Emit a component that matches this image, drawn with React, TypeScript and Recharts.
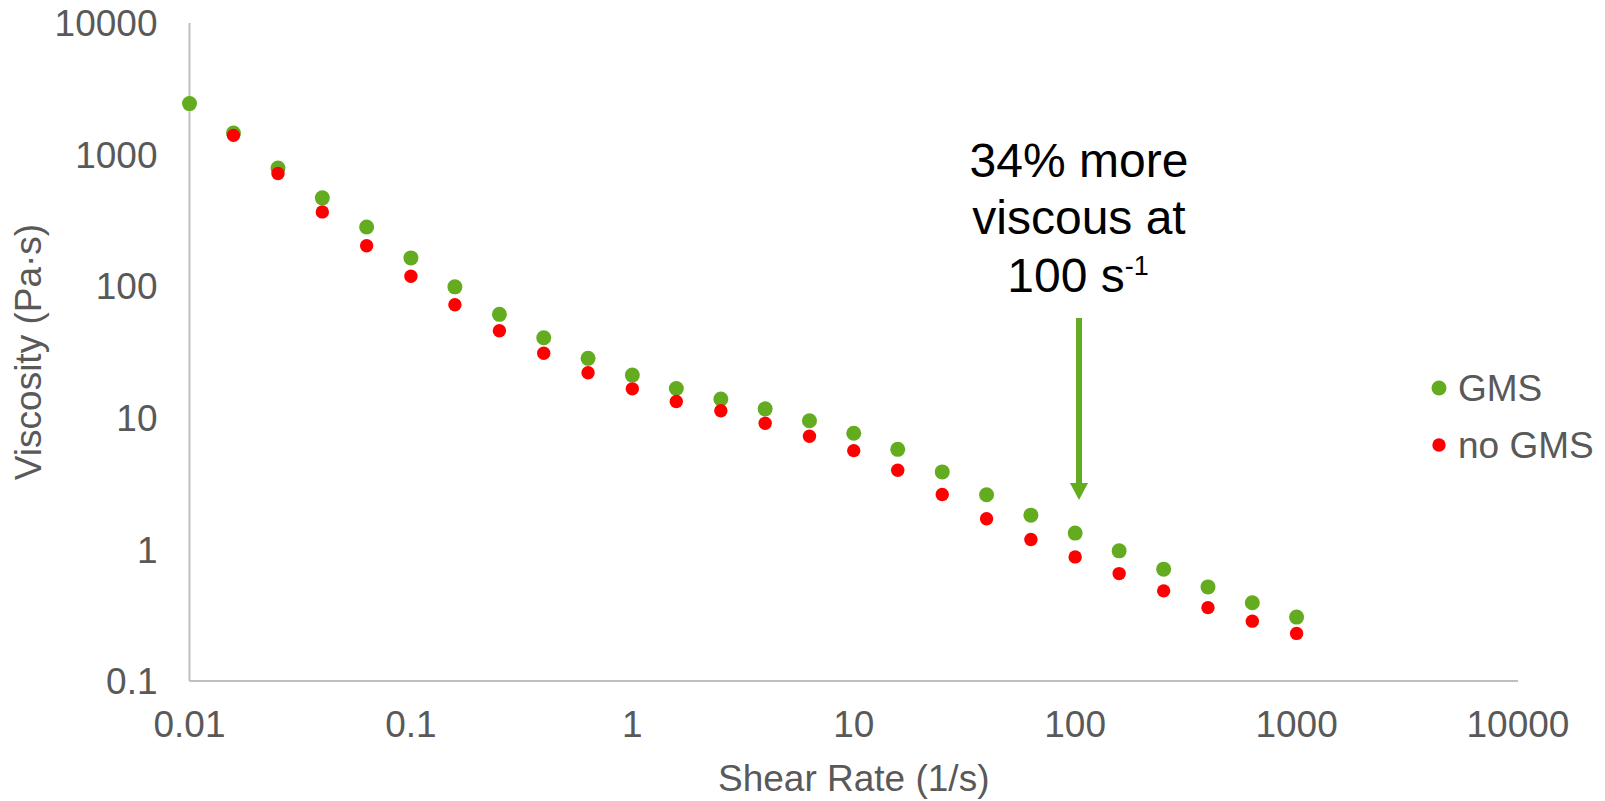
import React from "react"
import {
  ScatterChart,
  Scatter,
  XAxis,
  YAxis,
} from "recharts"

// shear rate (1/s), 5 points per decade
const shearRate = [
  0.01, 0.0158, 0.0251, 0.0398, 0.0631, 0.1, 0.158, 0.251, 0.398, 0.631, 1,
  1.58, 2.51, 3.98, 6.31, 10, 15.8, 25.1, 39.8, 63.1, 100, 158, 251, 398, 631,
  1000,
]

// viscosity (Pa·s)
const gmsViscosity = [
  2440, 1460, 790, 469, 282, 164, 98.9, 61.1, 40.6, 28.3, 21.1, 16.7, 13.9,
  11.7, 9.5, 7.63, 5.76, 3.88, 2.6, 1.82, 1.33, 0.975, 0.708, 0.519, 0.393,
  0.306,
]

// no GMS series has no point at 0.01
const noGmsViscosity = [
  null, 1400, 718, 367, 203, 119, 72.2, 45.9, 30.9, 22.0, 16.6, 13.3, 11.3,
  9.08, 7.24, 5.63, 3.99, 2.61, 1.71, 1.19, 0.877, 0.655, 0.484, 0.361, 0.285,
  0.23,
]

const xTicks = [0.01, 0.1, 1, 10, 100, 1000, 10000]
const yTicks = [0.1, 1, 10, 100, 1000, 10000]

const GREEN = "#63AC1F"
const RED = "#FF0000"
const GRAY = "#595959"
const AXIS = "#BFBFBF"
const FONT = '"Liberation Sans", Arial, sans-serif'
const FS = 37

const gmsData = shearRate.map((x, i) => ({ x, y: gmsViscosity[i] }))
const noGmsData = shearRate
  .map((x, i) => ({ x, y: noGmsViscosity[i] }))
  .filter((d) => d.y != null)

const dot = (color: string, r: number) => (props: any) =>
  <circle cx={props.cx} cy={props.cy} r={r} fill={color} />

export default function App() {
  return (
    <div
      style={{
        position: "absolute",
        left: 0,
        top: 0,
        width: 1605,
        height: 801,
        background: "#fff",
        fontFamily: FONT,
      }}
    >
      <ScatterChart
        width={1605}
        height={801}
        margin={{ top: 23, right: 87, bottom: 0, left: 0 }}
      >
        <XAxis
          type="number"
          dataKey="x"
          scale="log"
          domain={[0.01, 10000]}
          ticks={xTicks}
          height={120}
          tickLine={false}
          tickSize={0}
          tickMargin={30}
          axisLine={{ stroke: AXIS, strokeWidth: 2 }}
          tick={{ fill: GRAY, fontSize: FS, fontFamily: FONT }}
          tickFormatter={(v) => String(v)}
          label={{
            content: (p: any) => {
              const vb = p.viewBox
              return (
                <text
                  x={vb.x + vb.width / 2}
                  y={791}
                  textAnchor="middle"
                  fill={GRAY}
                  fontSize={FS}
                  fontFamily={FONT}
                >
                  Shear Rate (1/s)
                </text>
              )
            },
          }}
        />
        <YAxis
          type="number"
          dataKey="y"
          scale="log"
          domain={[0.1, 10000]}
          ticks={yTicks}
          width={189.5}
          tickLine={false}
          tickSize={0}
          tickMargin={32}
          axisLine={{ stroke: AXIS, strokeWidth: 2 }}
          tick={{ fill: GRAY, fontSize: FS, fontFamily: FONT }}
          tickFormatter={(v) => String(v)}
          label={{
            content: (p: any) => {
              const vb = p.viewBox
              const cx = 28
              const cy = vb.y + vb.height / 2
              return (
                <text
                  x={cx}
                  y={cy}
                  transform={`rotate(-90, ${cx}, ${cy})`}
                  textAnchor="middle"
                  dominantBaseline="central"
                  fill={GRAY}
                  fontSize={FS}
                  fontFamily={FONT}
                >
                  Viscosity (Pa·s)
                </text>
              )
            },
          }}
        />
        <Scatter
          name="GMS"
          data={gmsData}
          fill={GREEN}
          shape={dot(GREEN, 7.5)}
          isAnimationActive={false}
        />
        <Scatter
          name="no GMS"
          data={noGmsData}
          fill={RED}
          shape={dot(RED, 6.7)}
          isAnimationActive={false}
        />
      </ScatterChart>

      {/* annotation with arrow */}
      <svg
        width={1605}
        height={801}
        style={{ position: "absolute", left: 0, top: 0, pointerEvents: "none" }}
      >
        <text textAnchor="middle" fill="#000" fontSize={48} fontFamily={FONT}>
          <tspan x={1079} y={177}>34% more</tspan>
          <tspan x={1079} y={233.5}>viscous at</tspan>
        </text>
        <text
          x={1078}
          y={292}
          textAnchor="middle"
          fill="#000"
          fontSize={48}
          fontFamily={FONT}
        >
          100 s
          <tspan fontSize={27} dy={-17}>-1</tspan>
        </text>
        <line x1={1079} y1={318} x2={1079} y2={485} stroke={GREEN} strokeWidth={6} />
        <polygon points="1070,483 1088,483 1079,500" fill={GREEN} />

        {/* legend */}
        <circle cx={1439} cy={388} r={7.5} fill={GREEN} />
        <text x={1458} y={388} dominantBaseline="central" fill={GRAY} fontSize={FS} fontFamily={FONT}>
          GMS
        </text>
        <circle cx={1439} cy={445} r={6.7} fill={RED} />
        <text x={1458} y={445} dominantBaseline="central" fill={GRAY} fontSize={FS} fontFamily={FONT}>
          no GMS
        </text>
      </svg>
    </div>
  )
}
